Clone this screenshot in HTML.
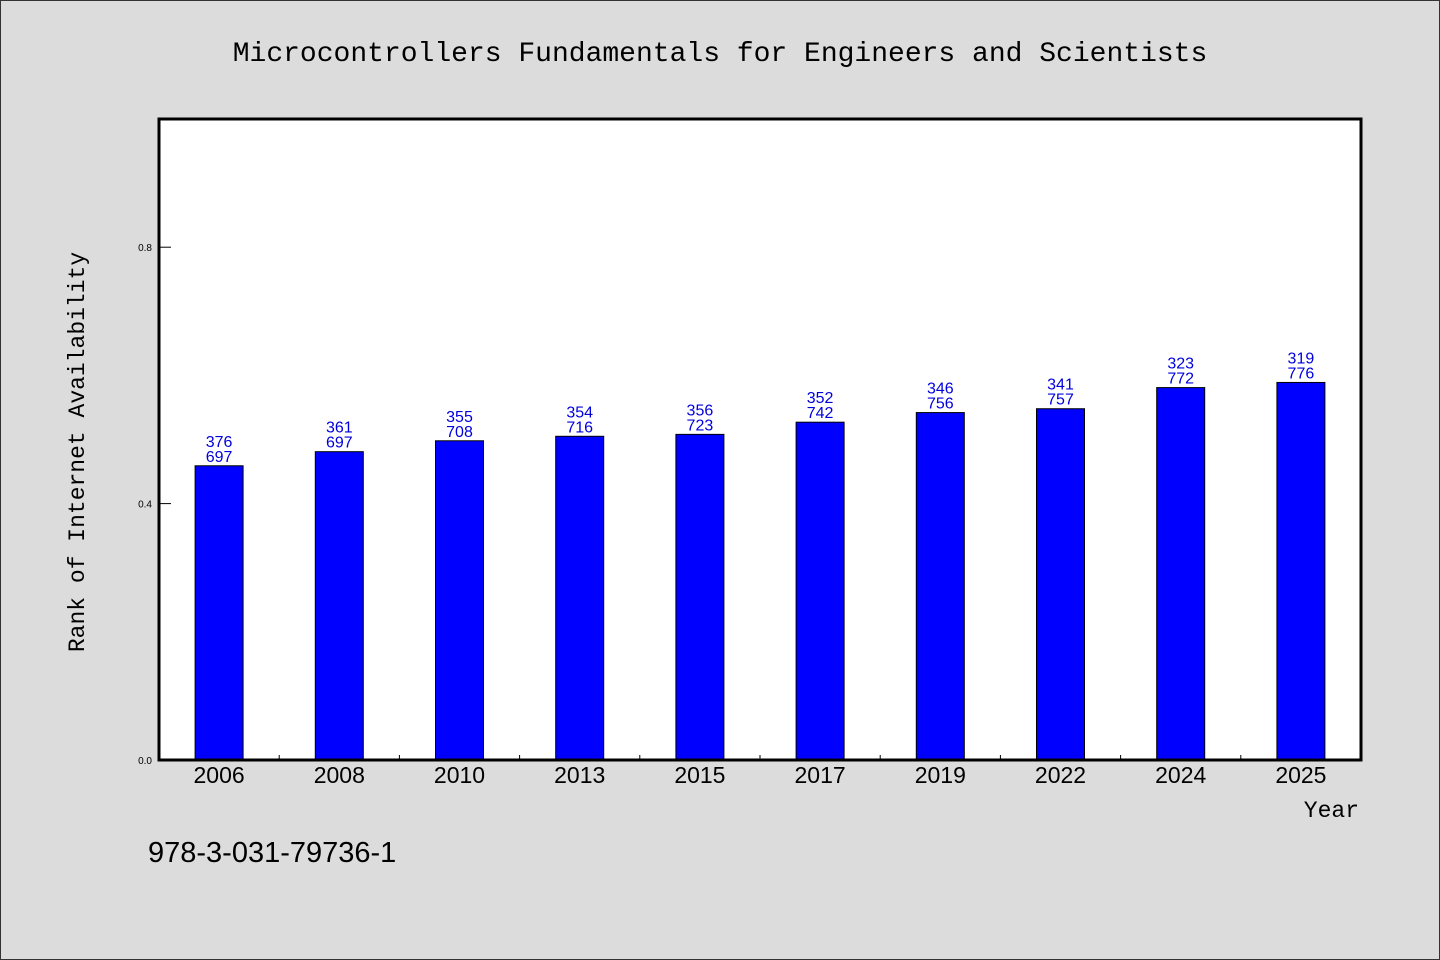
<!DOCTYPE html>
<html><head><meta charset="utf-8"><style>
body{margin:0;background:#dcdcdc;}
svg{display:block;font-family:"Liberation Sans","WenQuanYi Zen Hei",sans-serif;}
</style></head><body>
<svg id="chart" width="1440" height="960">
<rect x="0.5" y="0.5" width="1439" height="959" fill="#dcdcdc" stroke="#333"/>
<text x="720" y="61" text-anchor="middle" font-size="28" font-family="'WenQuanYi Zen Hei','Liberation Mono',monospace">Microcontrollers Fundamentals for Engineers and Scientists</text>
<rect x="159" y="119" width="1202" height="641" fill="#fff"/>
<g id="bars"></g>
<g id="axes"></g>
<rect x="159" y="119" width="1202" height="641" fill="none" stroke="#000" stroke-width="3"/>
<text transform="translate(84,452) rotate(-90)" text-anchor="middle" font-size="23" font-family="'WenQuanYi Zen Hei','Liberation Mono',monospace">Rank of Internet Availability</text>
<text x="1359" y="817" text-anchor="end" font-size="23" font-family="'WenQuanYi Zen Hei','Liberation Mono',monospace">Year</text>
<text x="148" y="862" font-size="29" font-family="'WenQuanYi Zen Hei','Liberation Sans',sans-serif">978-3-031-79736-1</text>
</svg>
<script>
const categories=["2006","2008","2010","2013","2015","2017","2019","2022","2024","2025"];
const values=[0.459,0.481,0.498,0.505,0.508,0.527,0.542,0.548,0.581,0.589];
const labelTop=["376","361","355","354","356","352","346","341","323","319"];
const labelBottom=["697","697","708","716","723","742","756","757","772","776"];
const yTicks=[0.0,0.4,0.8];
const NS="http://www.w3.org/2000/svg";
const L=159,R=1361,T=119,B=760;
const x=i=>L+(R-L)/categories.length*(i+0.5);
const y=v=>B-(B-T)*v/1.0;
function mk(tag,attrs,parent){const e=document.createElementNS(NS,tag);for(const k in attrs)e.setAttribute(k,attrs[k]);parent.appendChild(e);return e;}
const gb=document.getElementById('bars'),ga=document.getElementById('axes');
const bw=48;
categories.forEach((c,i)=>{
 const r=mk('rect',{x:x(i)-bw/2,y:y(values[i]),width:bw,height:B-y(values[i]),fill:'#0000ff',stroke:'#000','stroke-width':1},gb);
 
 
 const t1=mk('text',{x:x(i),y:y(values[i])-19,'text-anchor':'middle','font-size':16,fill:'#0000dd'},gb);
 t1.textContent=labelTop[i];
 
 
 const t2=mk('text',{x:x(i),y:y(values[i])-4,'text-anchor':'middle','font-size':16,fill:'#0000dd'},gb);
 t2.textContent=labelBottom[i];
 
 
 const xl=mk('text',{x:x(i),y:783,'text-anchor':'middle','font-size':23},ga);
 xl.textContent=c;
 
 
 if(i>0){const tk=mk('line',{x1:L+(R-L)/categories.length*i,x2:L+(R-L)/categories.length*i,y1:B,y2:B-5,stroke:'#000'},ga);
 
 }
});
yTicks.forEach(v=>{
 const tk=mk('line',{x1:L,x2:L+12,y1:y(v),y2:y(v),stroke:'#000'},ga);
 
 
 const tl=mk('text',{x:152,y:y(v)+4,'text-anchor':'end','font-size':10},ga);
 tl.textContent=v.toFixed(1);
 
 
});
</script>
</body></html>
